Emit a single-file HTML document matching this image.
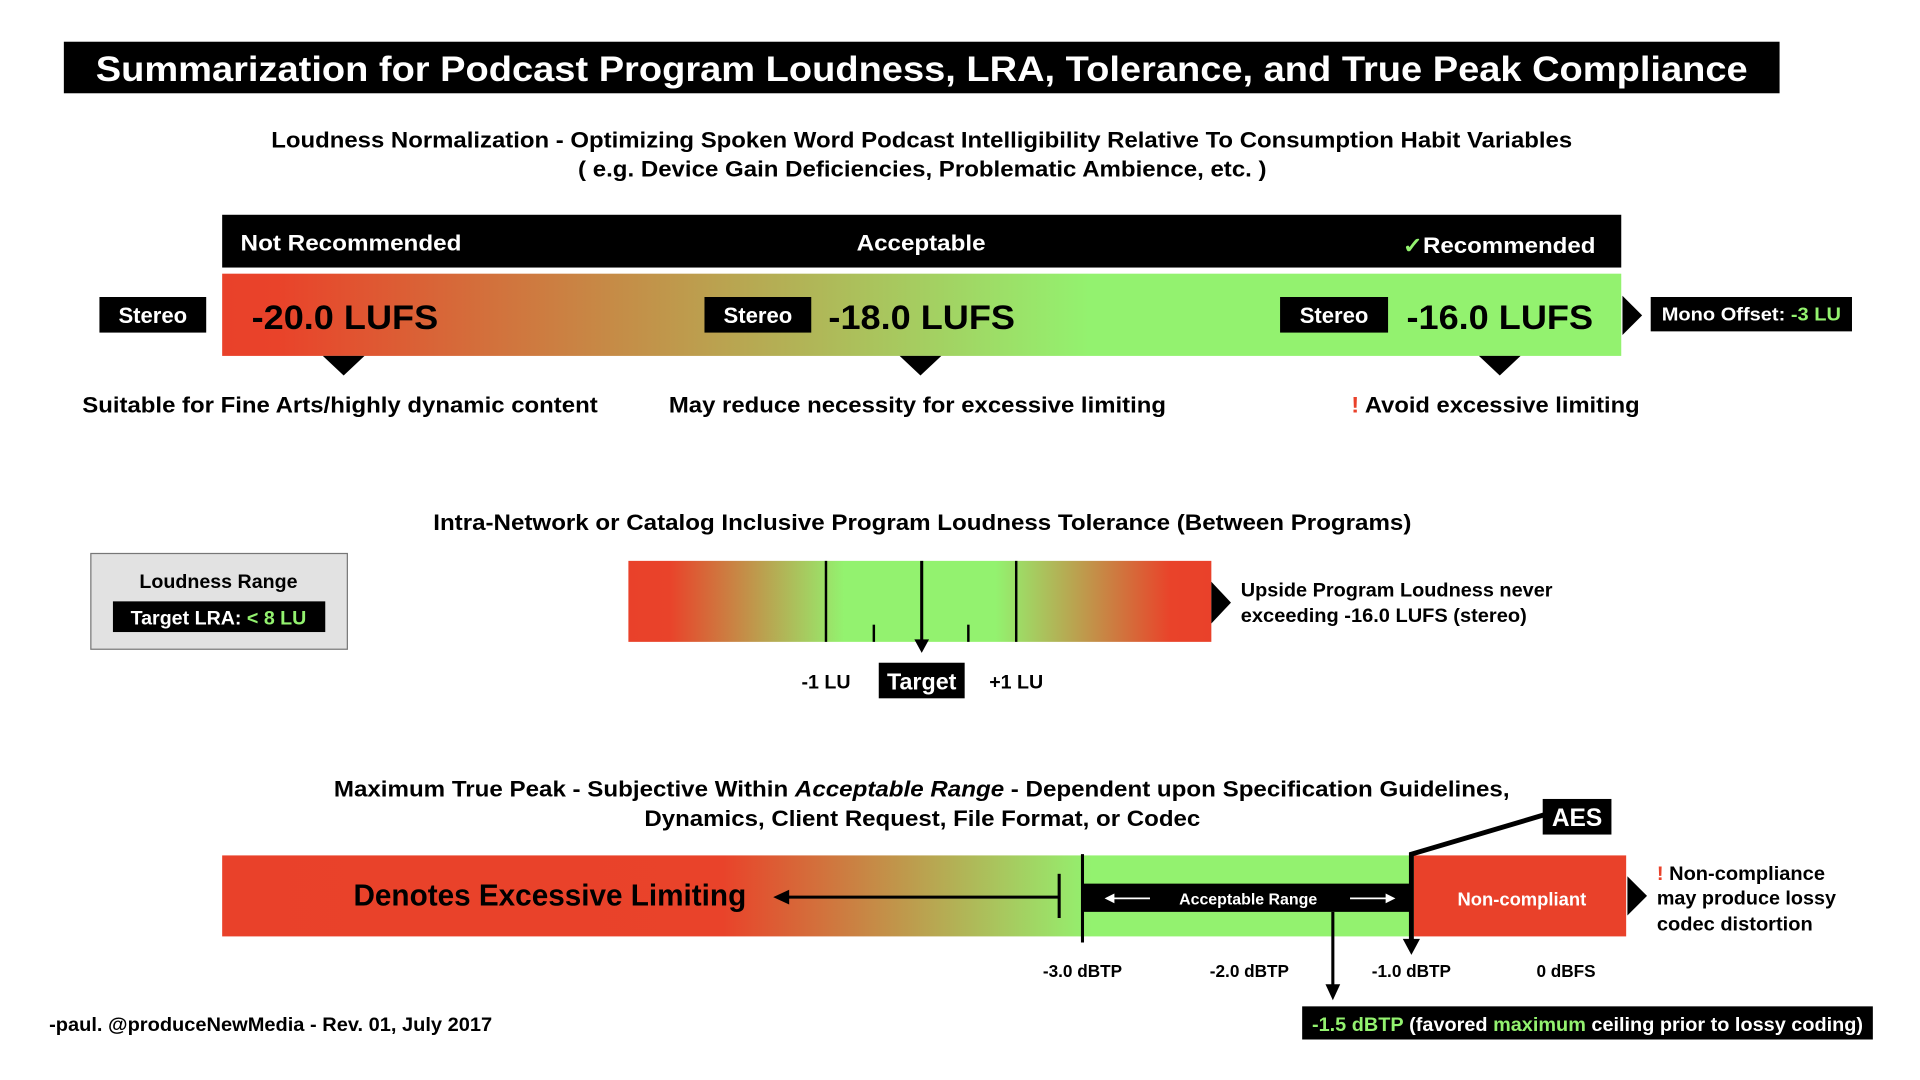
<!DOCTYPE html>
<html><head><meta charset="utf-8"><style>
html,body{margin:0;padding:0;background:#fff;}
svg{display:block;}
text{font-family:"Liberation Sans",Arial,sans-serif;font-weight:bold;}
</style></head><body>
<svg width="1920" height="1080" viewBox="0 0 1564.4 880" xmlns="http://www.w3.org/2000/svg">
<defs>
<linearGradient id="g1" x1="0" x2="1" y1="0" y2="0">
<stop offset="0" stop-color="#e9412a"/><stop offset="0.04" stop-color="#e9432a"/>
<stop offset="0.62" stop-color="#93f26f"/><stop offset="1" stop-color="#93f26f"/></linearGradient>
<linearGradient id="g2" x1="0" x2="1" y1="0" y2="0">
<stop offset="0" stop-color="#e9412a"/><stop offset="0.07" stop-color="#e9432a"/>
<stop offset="0.37" stop-color="#93f26f"/><stop offset="0.63" stop-color="#93f26f"/>
<stop offset="0.93" stop-color="#e9432a"/><stop offset="1" stop-color="#e9412a"/></linearGradient>
<linearGradient id="g3" x1="181" x2="1152" y1="0" y2="0" gradientUnits="userSpaceOnUse">
<stop offset="0" stop-color="#e9412a"/><stop offset="0.42" stop-color="#e9432a"/>
<stop offset="0.73" stop-color="#93f26f"/><stop offset="1" stop-color="#93f26f"/></linearGradient>
</defs>

<rect x="52" y="34" width="1398" height="42" fill="#000"/>
<text x="78" y="66" fill="#fff" font-size="29" textLength="1346" lengthAdjust="spacingAndGlyphs">Summarization for Podcast Program Loudness, LRA, Tolerance, and True Peak Compliance</text>

<text x="221" y="120" font-size="18" textLength="1060" lengthAdjust="spacingAndGlyphs">Loudness Normalization - Optimizing Spoken Word Podcast Intelligibility Relative To Consumption Habit Variables</text>
<text x="471" y="144" font-size="18" textLength="561" lengthAdjust="spacingAndGlyphs">( e.g. Device Gain Deficiencies, Problematic Ambience, etc. )</text>

<rect x="181" y="175" width="1140" height="43" fill="#000"/>
<text x="196" y="204" fill="#fff" font-size="18" textLength="180" lengthAdjust="spacingAndGlyphs">Not Recommended</text>
<text x="698" y="204" fill="#fff" font-size="18" textLength="105" lengthAdjust="spacingAndGlyphs">Acceptable</text>
<text x="1143" y="206" fill="#fff" font-size="18" textLength="157" lengthAdjust="spacingAndGlyphs"><tspan fill="#93f26f">✓</tspan>Recommended</text>

<rect x="181" y="223" width="1140" height="67" fill="url(#g1)"/>
<rect x="81" y="242" width="87" height="29" fill="#000"/>
<text x="124.5" y="263" fill="#fff" font-size="18" text-anchor="middle">Stereo</text>
<rect x="574" y="242" width="87" height="29" fill="#000"/>
<text x="617.5" y="263" fill="#fff" font-size="18" text-anchor="middle">Stereo</text>
<rect x="1043" y="242" width="88" height="29" fill="#000"/>
<text x="1087" y="263" fill="#fff" font-size="18" text-anchor="middle">Stereo</text>
<text x="205" y="268" font-size="28" textLength="152" lengthAdjust="spacingAndGlyphs">-20.0 LUFS</text>
<text x="675" y="268" font-size="28" textLength="152" lengthAdjust="spacingAndGlyphs">-18.0 LUFS</text>
<text x="1146" y="268" font-size="28" textLength="152" lengthAdjust="spacingAndGlyphs">-16.0 LUFS</text>
<polygon points="1322,241 1338,257 1322,273" fill="#000"/>
<rect x="1345" y="242" width="164" height="28" fill="#000"/>
<text x="1354" y="261" fill="#fff" font-size="15" textLength="146" lengthAdjust="spacingAndGlyphs">Mono Offset: <tspan fill="#93f26f">-3 LU</tspan></text>
<polygon points="263,290 297,290 280,306" fill="#000"/>
<polygon points="733,290 767,290 750,306" fill="#000"/>
<polygon points="1205,290 1239,290 1222,306" fill="#000"/>
<text x="67" y="336" font-size="18" textLength="420" lengthAdjust="spacingAndGlyphs">Suitable for Fine Arts/highly dynamic content</text>
<text x="545" y="336" font-size="18" textLength="405" lengthAdjust="spacingAndGlyphs">May reduce necessity for excessive limiting</text>
<text x="1101" y="336" font-size="18" textLength="235" lengthAdjust="spacingAndGlyphs"><tspan fill="#e9412a">!</tspan> Avoid excessive limiting</text>

<text x="353" y="432" font-size="18" textLength="797" lengthAdjust="spacingAndGlyphs">Intra-Network or Catalog Inclusive Program Loudness Tolerance (Between Programs)</text>
<rect x="74" y="451" width="209" height="78" fill="#e2e2e2" stroke="#777" stroke-width="1"/>
<text x="178" y="479" font-size="16" text-anchor="middle">Loudness Range</text>
<rect x="92" y="490" width="173" height="25" fill="#000"/>
<text x="178" y="509" fill="#fff" font-size="16" text-anchor="middle">Target LRA: <tspan fill="#93f26f">&lt; 8 LU</tspan></text>

<rect x="512" y="457" width="475" height="66" fill="url(#g2)"/>
<line x1="673" y1="457" x2="673" y2="523" stroke="#000" stroke-width="2"/>
<line x1="828" y1="457" x2="828" y2="523" stroke="#000" stroke-width="2"/>
<line x1="751" y1="457" x2="751" y2="522" stroke="#000" stroke-width="2.5"/>
<polygon points="745,521 757,521 751,532" fill="#000"/>
<line x1="712" y1="509" x2="712" y2="523" stroke="#000" stroke-width="2"/>
<line x1="789" y1="509" x2="789" y2="523" stroke="#000" stroke-width="2"/>
<polygon points="987,474 1003,491 987,508" fill="#000"/>
<text x="1011" y="486" font-size="16" textLength="254" lengthAdjust="spacingAndGlyphs">Upside Program Loudness never</text>
<text x="1011" y="507" font-size="16" textLength="233" lengthAdjust="spacingAndGlyphs">exceeding -16.0 LUFS (stereo)</text>
<text x="673" y="561" font-size="16" text-anchor="middle">-1 LU</text>
<rect x="716" y="540" width="70" height="29" fill="#000"/>
<text x="751" y="562" fill="#fff" font-size="19" text-anchor="middle">Target</text>
<text x="828" y="561" font-size="16" text-anchor="middle">+1 LU</text>

<text x="272" y="649" font-size="18" textLength="958" lengthAdjust="spacingAndGlyphs">Maximum True Peak - Subjective Within <tspan font-style="italic">Acceptable Range</tspan> - Dependent upon Specification Guidelines,</text>
<text x="525" y="673" font-size="18" textLength="453" lengthAdjust="spacingAndGlyphs">Dynamics, Client Request, File Format, or Codec</text>

<rect x="181" y="697" width="971" height="66" fill="url(#g3)"/>
<rect x="1152" y="697" width="173" height="66" fill="#e9412a"/>
<text x="1240" y="738" fill="#fff" font-size="15" text-anchor="middle">Non-compliant</text>
<rect x="882" y="720" width="268" height="23" fill="#000"/>
<text x="1017" y="737" fill="#fff" font-size="13" text-anchor="middle">Acceptable Range</text>
<line x1="906" y1="732" x2="937" y2="732" stroke="#fff" stroke-width="1.5"/>
<polygon points="900,732 908,728 908,736" fill="#fff"/>
<line x1="1100" y1="732" x2="1131" y2="732" stroke="#fff" stroke-width="1.5"/>
<polygon points="1137,732 1129,728 1129,736" fill="#fff"/>
<line x1="882" y1="696" x2="882" y2="768" stroke="#000" stroke-width="2.5"/>
<line x1="863" y1="712" x2="863" y2="748" stroke="#000" stroke-width="2.5"/>
<line x1="640" y1="731" x2="863" y2="731" stroke="#000" stroke-width="2.5"/>
<polygon points="630,731 643,725 643,737" fill="#000"/>
<text x="288" y="738" font-size="25" textLength="320" lengthAdjust="spacingAndGlyphs">Denotes Excessive Limiting</text>
<polyline points="1150,767 1150,696 1258,664" fill="none" stroke="#000" stroke-width="4"/>
<polygon points="1143,765 1157,765 1150,778" fill="#000"/>
<rect x="1257" y="651" width="56" height="29" fill="#000"/>
<text x="1285" y="673" fill="#fff" font-size="20" text-anchor="middle">AES</text>
<line x1="1086" y1="743" x2="1086" y2="804" stroke="#000" stroke-width="2.5"/>
<polygon points="1080,802 1092,802 1086,815" fill="#000"/>
<polygon points="1326,714 1342,730 1326,746" fill="#000"/>
<text x="1350" y="717" font-size="16" textLength="137" lengthAdjust="spacingAndGlyphs"><tspan fill="#e9412a">!</tspan> Non-compliance</text>
<text x="1350" y="737" font-size="16" textLength="146" lengthAdjust="spacingAndGlyphs">may produce lossy</text>
<text x="1350" y="758" font-size="16" textLength="127" lengthAdjust="spacingAndGlyphs">codec distortion</text>
<text x="882" y="796" font-size="14" text-anchor="middle">-3.0 dBTP</text>
<text x="1018" y="796" font-size="14" text-anchor="middle">-2.0 dBTP</text>
<text x="1150" y="796" font-size="14" text-anchor="middle">-1.0 dBTP</text>
<text x="1276" y="796" font-size="14" text-anchor="middle">0 dBFS</text>
<rect x="1061" y="820" width="465" height="27" fill="#000"/>
<text x="1069" y="840" fill="#fff" font-size="16" textLength="449" lengthAdjust="spacingAndGlyphs"><tspan fill="#93f26f">-1.5 dBTP</tspan> (favored <tspan fill="#93f26f">maximum</tspan> ceiling prior to lossy coding)</text>
<text x="40" y="840" font-size="16" textLength="361" lengthAdjust="spacingAndGlyphs">-paul. @produceNewMedia - Rev. 01, July 2017</text>
</svg>
</body></html>
